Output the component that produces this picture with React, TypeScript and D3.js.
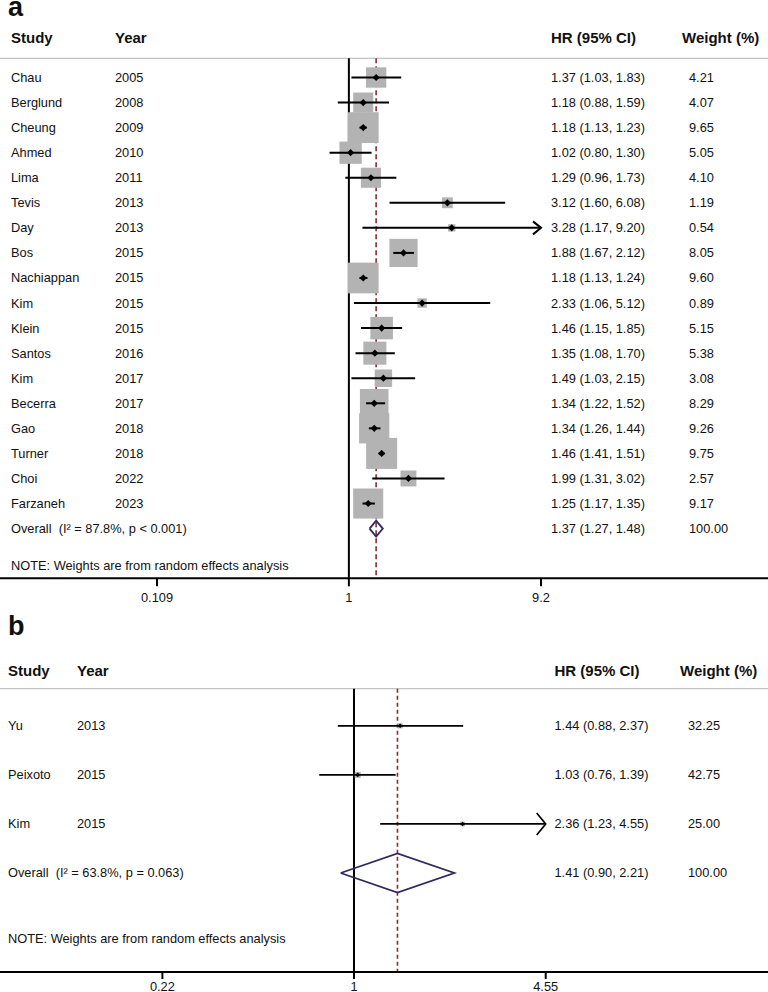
import React from 'react';
import * as d3 from 'd3';

// ---------- Panel a data ----------
const studiesA = ['Chau', 'Berglund', 'Cheung', 'Ahmed', 'Lima', 'Tevis', 'Day', 'Bos', 'Nachiappan', 'Kim', 'Klein', 'Santos', 'Kim', 'Becerra', 'Gao', 'Turner', 'Choi', 'Farzaneh'];
const yearsA = ['2005', '2008', '2009', '2010', '2011', '2013', '2013', '2015', '2015', '2015', '2015', '2016', '2017', '2017', '2018', '2018', '2022', '2023'];
const hrA = [1.37, 1.18, 1.18, 1.02, 1.29, 3.12, 3.28, 1.88, 1.18, 2.33, 1.46, 1.35, 1.49, 1.34, 1.34, 1.46, 1.99, 1.25];
const lowA = [1.03, 0.88, 1.13, 0.80, 0.96, 1.60, 1.17, 1.67, 1.13, 1.06, 1.15, 1.08, 1.03, 1.22, 1.26, 1.41, 1.31, 1.17];
const highA = [1.83, 1.59, 1.23, 1.30, 1.73, 6.08, 9.20, 2.12, 1.24, 5.12, 1.85, 1.70, 2.15, 1.52, 1.44, 1.51, 3.02, 1.35];
const weightsA = [4.21, 4.07, 9.65, 5.05, 4.10, 1.19, 0.54, 8.05, 9.60, 0.89, 5.15, 5.38, 3.08, 8.29, 9.26, 9.75, 2.57, 9.17];
const overallA = [1.37, 1.27, 1.48];
const overallLabelA = 'Overall  (I\u00B2 = 87.8%, p < 0.001)';
const ticksA = [0.109, 1, 9.2];
const tickLabelsA = ['0.109', '1', '9.2'];

// ---------- Panel b data ----------
const studiesB = ['Yu', 'Peixoto', 'Kim'];
const yearsB = ['2013', '2015', '2015'];
const hrB = [1.44, 1.03, 2.36];
const lowB = [0.88, 0.76, 1.23];
const highB = [2.37, 1.39, 4.55];
const weightsB = [32.25, 42.75, 25.0];
const overallB = [1.41, 0.90, 2.21];
const overallLabelB = 'Overall  (I\u00B2 = 63.8%, p = 0.063)';
const ticksB = [0.22, 1, 4.55];
const tickLabelsB = ['0.22', '1', '4.55'];

const noteText = 'NOTE: Weights are from random effects analysis';
const FONT = '"Liberation Sans", Arial, Helvetica, sans-serif';
const BOX = '#b3b3b3';
const DIAMOND = '#2d2a5e';
const DASH = '#8e2a2e';

interface Layout {
  label: string; labelY: number; headerY: number; lineY: number;
  row0: number; rowStep: number; axisY: number; tickLabelY: number; noteY: number;
  xStudy: number; xYear: number; xHr: number; xWeightHead: number; xWeight: number;
  range: [number, number]; boxMax: number; pt: number; ciW: number;
  arrowBack: number; arrowHalf: number; diamondHalf: number; dash: string; tickLen: number;
}

function Panel(props: {
  L: Layout; studies: string[]; years: string[]; hr: number[]; low: number[]; high: number[];
  weights: number[]; overall: number[]; overallLabel: string; ticks: number[]; tickLabels: string[];
}) {
  const { L, studies, years, hr, low, high, weights, overall, overallLabel, ticks, tickLabels } = props;
  const x = d3.scaleLog().domain([ticks[0], ticks[ticks.length - 1]]).range(L.range);
  const n = studies.length;
  const y = d3.scaleLinear().domain([0, n]).range([L.row0, L.row0 + n * L.rowStep]);
  const box = d3.scaleSqrt().domain([0, d3.max(weights) as number]).range([0, L.boxMax]);
  const xMax = ticks[ticks.length - 1];
  const xMin = ticks[0];
  const fmt = (v: number) => v.toFixed(2);
  const yo = y(n);
  const diamondPath = d3.line<[number, number]>()([
    [x(overall[1]), yo], [x(overall[0]), yo - L.diamondHalf], [x(overall[2]), yo], [x(overall[0]), yo + L.diamondHalf], [x(overall[1]), yo],
  ]) as string;

  return (
    <g fontFamily={FONT}>
      <text x={8} y={L.labelY} fontSize={27} fontWeight="bold" fill="#111">{L.label}</text>
      {/* header */}
      <g fontSize={15} fontWeight="bold" fill="#111">
        <text x={L.xStudy} y={L.headerY} dy="0.35em">Study</text>
        <text x={L.xYear} y={L.headerY} dy="0.35em">Year</text>
        <text x={L.xHr} y={L.headerY} dy="0.35em">HR (95% CI)</text>
        <text x={L.xWeightHead} y={L.headerY} dy="0.35em">Weight (%)</text>
      </g>
      <line x1={0} x2={768} y1={L.lineY} y2={L.lineY} stroke="#c4c4c4" strokeWidth={1.2} />
      {/* null line and overall dashed line */}
      <line x1={x(1)} x2={x(1)} y1={L.lineY} y2={L.axisY} stroke="#000" strokeWidth={2} />
      <line x1={x(overall[0])} x2={x(overall[0])} y1={L.lineY} y2={L.axisY} stroke={DASH} strokeWidth={1.6} strokeDasharray={L.dash} />
      {/* boxes */}
      {weights.map((w, i) => {
        const s = box(w);
        return <rect key={'b' + i} x={x(hr[i]) - s / 2} y={y(i) - s / 2} width={s} height={s} fill={BOX} />;
      })}
      {/* CI lines, points */}
      {hr.map((h, i) => {
        const lo = Math.max(low[i], xMin);
        const hiClipped = high[i] >= xMax;
        const hi = Math.min(high[i], xMax);
        const cy = y(i);
        const xh = x(hi);
        const p = L.pt;
        return (
          <g key={'c' + i}>
            <line x1={x(lo)} x2={xh} y1={cy} y2={cy} stroke="#000" strokeWidth={L.ciW} />
            {hiClipped && (
              <path d={`M${xh - L.arrowBack},${cy - L.arrowHalf}L${xh},${cy}L${xh - L.arrowBack},${cy + L.arrowHalf}`} fill="none" stroke="#000" strokeWidth={L.ciW} />
            )}
            <path d={`M${x(h) - p},${cy}L${x(h)},${cy - p}L${x(h) + p},${cy}L${x(h)},${cy + p}Z`} fill="#000" />
          </g>
        );
      })}
      {/* overall diamond */}
      <path d={diamondPath} fill="#fff" fillOpacity={0} stroke={DIAMOND} strokeWidth={1.8} strokeLinejoin="miter" />
      {/* text rows */}
      <g fontSize={12.8} fill="#111">
        {studies.map((s, i) => (
          <g key={'t' + i}>
            <text x={L.xStudy} y={y(i)} dy="0.35em">{s}</text>
            <text x={L.xYear} y={y(i)} dy="0.35em">{years[i]}</text>
            <text x={L.xHr} y={y(i)} dy="0.35em">{`${fmt(hr[i])} (${fmt(low[i])}, ${fmt(high[i])})`}</text>
            <text x={L.xWeight} y={y(i)} dy="0.35em">{fmt(weights[i])}</text>
          </g>
        ))}
        <text x={L.xStudy} y={yo} dy="0.35em" style={{ whiteSpace: 'pre' }}>{overallLabel}</text>
        <text x={L.xHr} y={yo} dy="0.35em">{`${fmt(overall[0])} (${fmt(overall[1])}, ${fmt(overall[2])})`}</text>
        <text x={L.xWeight} y={yo} dy="0.35em">100.00</text>
        <text x={L.xStudy} y={L.noteY} dy="0.35em">{noteText}</text>
      </g>
      {/* axis */}
      <line x1={0} x2={768} y1={L.axisY} y2={L.axisY} stroke="#000" strokeWidth={2} />
      {ticks.map((t, i) => (
        <g key={'k' + i}>
          <line x1={x(t)} x2={x(t)} y1={L.axisY} y2={L.axisY + L.tickLen} stroke="#000" strokeWidth={2} />
          <text x={x(t)} y={L.tickLabelY} dy="0.35em" textAnchor="middle" fontSize={12.8} fill="#111">{tickLabels[i]}</text>
        </g>
      ))}
    </g>
  );
}

const layoutA: Layout = {
  label: 'a', labelY: 16, headerY: 38, lineY: 58.3,
  row0: 77.5, rowStep: 25.06, axisY: 578.3, tickLabelY: 597.5, noteY: 566,
  xStudy: 11, xYear: 115, xHr: 551, xWeightHead: 682, xWeight: 689,
  range: [157, 541], boxMax: 31, pt: 3.6, ciW: 2,
  arrowBack: 8, arrowHalf: 6.5, diamondHalf: 8, dash: '5,3', tickLen: 8,
};

const layoutB: Layout = {
  label: 'b', labelY: 635, headerY: 670.5, lineY: 688.7,
  row0: 725.8, rowStep: 49.07, axisY: 972, tickLabelY: 987, noteY: 939,
  xStudy: 8, xYear: 77, xHr: 554.5, xWeightHead: 680, xWeight: 688,
  range: [162.4, 545.7], boxMax: 6, pt: 2.3, ciW: 1.7,
  arrowBack: 9, arrowHalf: 11, diamondHalf: 19.5, dash: '4,3', tickLen: 7,
};

export default function App() {
  return (
    <svg width={768} height={992} style={{ position: 'absolute', left: 0, top: 0, background: '#fff' }}>
      <rect width={768} height={992} fill="#fff" />
      <Panel L={layoutA} studies={studiesA} years={yearsA} hr={hrA} low={lowA} high={highA}
        weights={weightsA} overall={overallA} overallLabel={overallLabelA} ticks={ticksA} tickLabels={tickLabelsA} />
      <Panel L={layoutB} studies={studiesB} years={yearsB} hr={hrB} low={lowB} high={highB}
        weights={weightsB} overall={overallB} overallLabel={overallLabelB} ticks={ticksB} tickLabels={tickLabelsB} />
    </svg>
  );
}
